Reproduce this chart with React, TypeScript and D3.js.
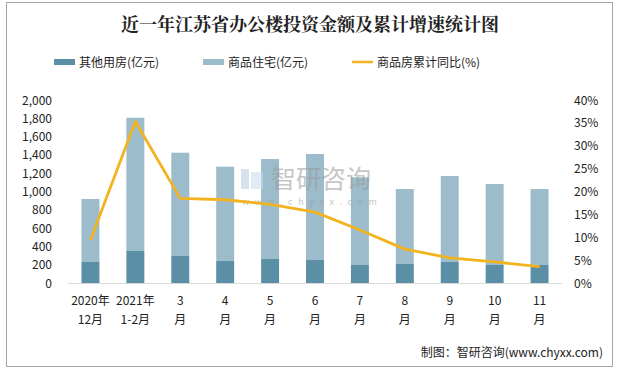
import React, { useEffect, useRef } from "react";
import * as d3 from "d3";

const categories = [
  ["2020年", "12月"],
  ["2021年", "1-2月"],
  ["3", "月"],
  ["4", "月"],
  ["5", "月"],
  ["6", "月"],
  ["7", "月"],
  ["8", "月"],
  ["9", "月"],
  ["10", "月"],
  ["11", "月"],
];
const otherValues = [233, 350, 295, 240, 262, 251, 197, 208, 230, 197, 197];
const residentialValues = [685, 1456, 1129, 1031, 1093, 1159, 958, 819, 939, 885, 830];
const growthValues = [9.4, 35.3, 18.5, 18.2, 17.2, 15.5, 11.6, 7.4, 5.5, 4.6, 3.6];
const leftTicks = [0, 200, 400, 600, 800, 1000, 1200, 1400, 1600, 1800, 2000];
const rightTicks = [0, 5, 10, 15, 20, 25, 30, 35, 40];

const W = 620;
const H = 373;
const font = "'Microsoft YaHei', 'Noto Sans CJK SC', sans-serif";

export default function App() {
  const ref = useRef<SVGSVGElement>(null);

  useEffect(() => {
    document.body.style.margin = "0";
    const svg = d3.select(ref.current);
    svg.selectAll("*").remove();

    const left = 68, right = 562, top = 100, bottom = 283;

    const x = d3.scaleBand<number>().domain(d3.range(categories.length)).range([left, right]).paddingInner(0.6).paddingOuter(0.3);
    const y = d3.scaleLinear().domain([0, 2000]).range([bottom, top]);
    const y2 = d3.scaleLinear().domain([0, 40]).range([bottom, top]);

    svg.append("rect").attr("x", 6.5).attr("y", 2.5).attr("width", 606).attr("height", 364)
      .attr("fill", "#fff").attr("stroke", "#a6a6a6");

    svg.append("text").attr("x", 310).attr("y", 31).attr("text-anchor", "middle")
      .attr("font-family", "'Noto Serif CJK SC', 'Noto Sans CJK SC', serif").attr("font-weight", "bold")
      .attr("font-size", 18).attr("fill", "#222").text("近一年江苏省办公楼投资金额及累计增速统计图");

    // legend
    const legend = [
      { label: "其他用房(亿元)", color: "#5b8fa5", x: 54, type: "rect" },
      { label: "商品住宅(亿元)", color: "#9dbccb", x: 203, type: "rect" },
      { label: "商品房累计同比(%)", color: "#f2b31f", x: 352, type: "line" },
    ];
    legend.forEach((l) => {
      if (l.type === "rect") {
        svg.append("rect").attr("x", l.x).attr("y", 59).attr("width", 21).attr("height", 6).attr("fill", l.color);
      } else {
        svg.append("line").attr("x1", l.x).attr("x2", l.x + 21).attr("y1", 62).attr("y2", 62)
          .attr("stroke", l.color).attr("stroke-width", 2.5);
      }
      svg.append("text").attr("x", l.x + 25).attr("y", 67).attr("font-family", font)
        .attr("font-size", 12).attr("fill", "#222").text(l.label);
    });

    // bars
    const g = svg.append("g");
    categories.forEach((_, i) => {
      const xi = x(i)!;
      const o = otherValues[i];
      const r = residentialValues[i];
      g.append("rect").attr("x", xi).attr("width", x.bandwidth()).attr("y", y(o + r)).attr("height", y(o) - y(o + r))
        .attr("fill", "#9dbccb");
      g.append("rect").attr("x", xi).attr("width", x.bandwidth()).attr("y", y(o)).attr("height", y(0) - y(o))
        .attr("fill", "#5b8fa5");
    });

    // watermark
    const wm = svg.append("g").attr("opacity", 0.55);
    wm.append("rect").attr("x", 241).attr("y", 169).attr("width", 8).attr("height", 20).attr("fill", "#b8c8e0");
    wm.append("rect").attr("x", 251).attr("y", 172).attr("width", 12).attr("height", 17).attr("fill", "#c8dced");
    wm.append("text").attr("x", 271).attr("y", 188).attr("font-family", font).attr("font-size", 25)
      .attr("fill", "#999").text("智研咨询");
    wm.append("text").attr("x", 242).attr("y", 205).attr("font-family", font).attr("font-size", 9)
      .attr("letter-spacing", 5.6).attr("fill", "#999").text("www.chyxx.com");

    svg.append("line").attr("x1", left).attr("x2", right).attr("y1", bottom + 0.5).attr("y2", bottom + 0.5)
      .attr("stroke", "#d9d9d9");

    // line
    const line = d3.line<number>()
      .x((_, i) => x(i)! + x.bandwidth() / 2)
      .y((d) => y2(d));
    svg.append("path").datum(growthValues).attr("d", line).attr("fill", "none")
      .attr("stroke", "#f2b31f").attr("stroke-width", 2.8).attr("stroke-linejoin", "round");

    // axes labels
    leftTicks.forEach((t) => {
      svg.append("text").attr("x", 52).attr("y", y(t) + 4.5).attr("text-anchor", "end")
        .attr("font-family", font).attr("font-size", 12).attr("fill", "#222").text(d3.format(",")(t));
    });
    rightTicks.forEach((t) => {
      svg.append("text").attr("x", 574).attr("y", y2(t) + 4.5)
        .attr("font-family", font).attr("font-size", 12).attr("fill", "#222").text(t + "%");
    });
    categories.forEach((c, i) => {
      const cx = x(i)! + x.bandwidth() / 2;
      c.forEach((s, k) => {
        svg.append("text").attr("x", cx).attr("y", 305 + k * 19).attr("text-anchor", "middle")
          .attr("font-family", font).attr("font-size", 12).attr("fill", "#222").text(s);
      });
    });

    svg.append("text").attr("x", 603).attr("y", 357).attr("text-anchor", "end")
      .attr("font-family", font).attr("font-size", 12).attr("fill", "#222").text("制图：智研咨询(www.chyxx.com)");
  }, []);

  return <svg ref={ref} width={W} height={H} style={{ display: "block" }} />;
}
